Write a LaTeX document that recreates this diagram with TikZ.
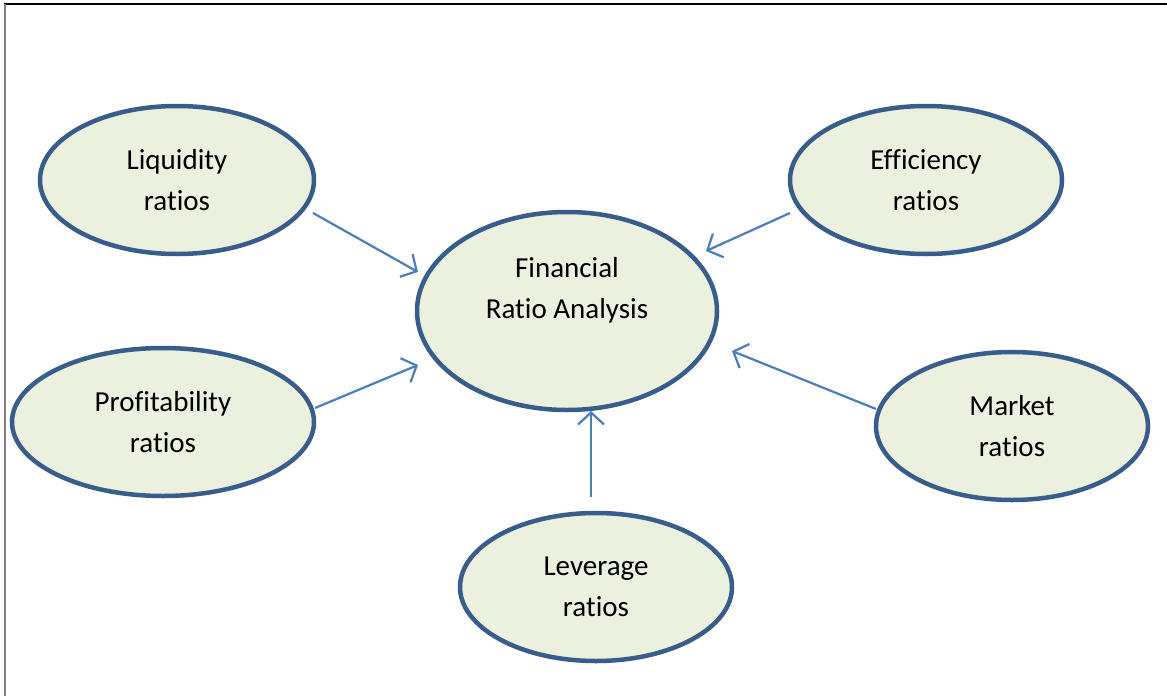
\documentclass[tikz,border=0pt]{standalone}
\usepackage{fontspec}
\setmainfont{Carlito}[Ligatures={NoCommon}]
\usetikzlibrary{shapes.geometric,arrows.meta}
\definecolor{ovalfill}{HTML}{EBF1DE}
\definecolor{ovalline}{HTML}{385D8A}
\definecolor{arrowline}{HTML}{4A7EBB}
\begin{document}
\begin{tikzpicture}[x=1pt,y=-1pt,
  oval/.style={ellipse, draw=ovalline, fill=ovalfill, line width=4.5pt,
    minimum width=#1, align=center, font=\fontsize{29}{41}\selectfont, inner sep=0pt},
  label text/.style={align=center, font=\fontsize{29}{41}\selectfont, inner sep=0pt},
  link/.style={draw=arrowline, line width=2.2pt,
    -{Straight Barb[length=12pt,width=26pt,line width=2.2pt]}}]
\useasboundingbox (0,0) rectangle (1167,696);
% frame edges
\draw[black, line width=1.5pt] (4,4) -- (1167,4);
\draw[gray, line width=2pt] (5,4) -- (5,696);

\node[oval=300pt, minimum height=198pt] (fra) at (567,311) {};
\node[label text] (fratext) at (567,290) {Financial\\Ratio Analysis};
\node[oval=274pt, minimum height=148pt] (liq) at (177,180) {Liquidity\\ratios};
\node[oval=272pt, minimum height=148pt] (eff) at (926,180) {Efficiency\\ratios};
\node[oval=302pt, minimum height=148pt] (pro) at (163,422) {Profitability\\ratios};
\node[oval=272pt, minimum height=148pt] (mkt) at (1012,426) {Market\\ratios};
\node[oval=272pt, minimum height=148pt] (lev) at (596,587) {Leverage\\ratios};

% arrow ends
\coordinate (l1) at (313,213); \coordinate (l2) at (418,272);
\coordinate (e1) at (790,213); \coordinate (e2) at (706,251);
\coordinate (p1) at (315,408); \coordinate (p2) at (418,365);
\coordinate (m1) at (876,409); \coordinate (m2) at (732,351);
\coordinate (v1) at (591,497); \coordinate (v2) at (591,411);

\draw[link] (l1) -- (l2);
\draw[link] (e1) -- (e2);
\draw[link] (p1) -- (p2);
\draw[link] (m1) -- (m2);
\draw[link] (v1) -- (v2);
\end{tikzpicture}
\end{document}
